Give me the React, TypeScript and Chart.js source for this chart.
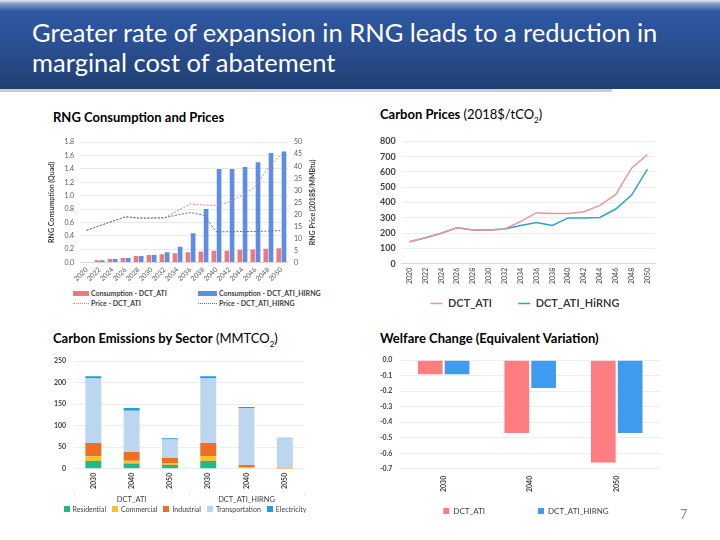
import React, { useEffect, useRef } from "react";
import { Chart, registerables } from "chart.js";
Chart.register(...registerables);

const FONT = "Lato, 'Open Sans', sans-serif";
Chart.defaults.font.family = FONT;
Chart.defaults.color = "#404040";

// ---- Chart 1: RNG consumption and prices ----
const rngYears = ["2020", "2022", "2024", "2026", "2028", "2030", "2032", "2034", "2036", "2038", "2040", "2042", "2044", "2046", "2048", "2050"];
const consumptionATI = [0.01, 0.035, 0.055, 0.07, 0.1, 0.115, 0.125, 0.14, 0.155, 0.165, 0.175, 0.175, 0.19, 0.195, 0.205, 0.215];
const consumptionHiRNG = [0.01, 0.035, 0.055, 0.07, 0.1, 0.115, 0.155, 0.235, 0.44, 0.8, 1.4, 1.4, 1.43, 1.5, 1.64, 1.66];
const priceATI = [13.4, 15.3, 17.2, 19, 18.5, 18.5, 18.6, 21.5, 24.4, 23.9, 23.8, 25.2, 28, 31.5, 39.5, 45];
const priceHiRNG = [13.4, 15.3, 17.2, 19, 18.5, 18.5, 18.6, 19.8, 20.8, 19.7, 12.8, 12.8, 12.9, 12.9, 13.1, 13.3];

// ---- Chart 2: carbon prices ----
const carbonYears = ["2020", "2022", "2024", "2026", "2028", "2030", "2032", "2034", "2036", "2038", "2040", "2042", "2044", "2046", "2048", "2050"];
const carbonATI = [144, 170, 199, 236, 221, 221, 228, 276, 334, 329, 329, 340, 382, 453, 625, 714];
const carbonHiRNG = [144, 170, 199, 236, 221, 221, 228, 250, 270, 250, 300, 300, 303, 358, 449, 619];

// ---- Chart 3: carbon emissions by sector ----
const emissionYears = ["2030", "2040", "2050", "2030", "2040", "2050"];
const emissionGroups = ["DCT_ATI", "DCT_ATI_HIRNG"];
const sectorNames = ["Residential", "Commercial", "Industrial", "Transportation", "Electricity"];
const sectorColors = ["#1FBA8C", "#F6C22E", "#EE6E24", "#BDD6EF", "#1F9DD8"];
const residential = [18, 12, 8.5, 18, 0, 0];
const commercial = [11, 6.5, 3.5, 11, 4, 0.5];
const industrial = [31, 20.5, 13, 31, 4.5, 1];
const transportation = [150, 96, 43, 150, 132, 70];
const electricity = [5, 6, 3, 5, 3, 0.5];

// ---- Chart 4: welfare change ----
const welfareYears = ["2030", "2040", "2050"];
const welfareATI = [-0.09, -0.47, -0.66];
const welfareHiRNG = [-0.09, -0.18, -0.47];

const rightTitlePlugin = {
  id: "rightTitle",
  afterDraw(chart: any) {
    const s = chart.scales.y1;
    if (!s) return;
    const ctx = chart.ctx;
    ctx.save();
    ctx.translate(s.right + 5, (chart.chartArea.top + chart.chartArea.bottom) / 2);
    ctx.rotate(-Math.PI / 2);
    ctx.font = `bold 7px ${FONT}`;
    ctx.fillStyle = "#404040";
    ctx.textAlign = "center";
    ctx.textBaseline = "middle";
    ctx.fillText("RNG Price (2018$/MMBtu)", 0, 0);
    ctx.restore();
  },
};

const shiftLegend = (dx: number) => ({
  id: "shiftLegend",
  afterLayout(chart: any) {
    if (chart.legend) {
      chart.legend.left += dx;
      chart.legend.right += dx;
    }
  },
});

const padLabels = (spaces: string) => (chart: any) => {
  const items = Chart.defaults.plugins.legend.labels.generateLabels(chart);
  return items.map((it: any, i: number) => (i < items.length - 1 ? { ...it, text: it.text + spaces } : it));
};

function rngConfig(): any {
  return {
    type: "bar",
    data: {
      labels: rngYears,
      datasets: [
        { type: "line", label: "Price - DCT_ATI_HIRNG", data: priceHiRNG, yAxisID: "y1", borderColor: "#4E7399", borderWidth: 1, borderDash: [2, 1.5], pointRadius: 0, order: 0 },
        { type: "line", label: "Price - DCT_ATI", data: priceATI, yAxisID: "y1", borderColor: "#D9858B", borderWidth: 1, borderDash: [2, 1.5], pointRadius: 0, order: 0 },
        { label: "Consumption - DCT_ATI", data: consumptionATI, yAxisID: "y", backgroundColor: "#E97A80", order: 1 },
        { label: "Consumption - DCT_ATI_HIRNG", data: consumptionHiRNG, yAxisID: "y", backgroundColor: "#5E8EE4", order: 1 },
      ],
    },
    options: {
      animation: false,
      responsive: true,
      maintainAspectRatio: false,
      layout: { padding: { top: 3, right: 12, left: 0, bottom: 0 } },
      datasets: { bar: { categoryPercentage: 0.8, barPercentage: 0.9 } },
      plugins: { legend: { display: false }, tooltip: { enabled: false } },
      scales: {
        x: {
          grid: { display: false, drawTicks: false },
          border: { color: "#D9D9D9" },
          ticks: { autoSkip: false, minRotation: 45, maxRotation: 45, font: { size: 7 }, color: "#595959", padding: 3 },
        },
        y: {
          min: 0,
          max: 1.8,
          ticks: { stepSize: 0.2, callback: (v: any) => Number(v).toFixed(1), font: { size: 7 }, color: "#595959", padding: 6 },
          grid: { color: "#E8E8E8", drawTicks: false },
          border: { display: false },
          title: { display: true, text: "RNG Consumption (Quad)", font: { size: 7, weight: "bold" }, color: "#404040", padding: 2 },
        },
        y1: {
          position: "right",
          min: 0,
          max: 50,
          ticks: { stepSize: 5, font: { size: 7 }, color: "#595959", padding: 6 },
          grid: { display: false, drawOnChartArea: false, drawTicks: false },
          border: { display: false },
        },
      },
    },
    plugins: [rightTitlePlugin],
  };
}

function carbonConfig(): any {
  return {
    type: "line",
    data: {
      labels: carbonYears,
      datasets: [
        { label: "DCT_ATI", data: carbonATI, borderColor: "#E8979D", backgroundColor: "#E8979D", borderWidth: 1.5, pointRadius: 0, pointStyle: "line" },
        { label: "DCT_ATI_HiRNG", data: carbonHiRNG, borderColor: "#2AA6C8", backgroundColor: "#2AA6C8", borderWidth: 1.5, pointRadius: 0, pointStyle: "line" },
      ],
    },
    options: {
      animation: false,
      responsive: true,
      maintainAspectRatio: false,
      layout: { padding: { top: 3, right: 4 } },
      plugins: {
        tooltip: { enabled: false },
        legend: {
          position: "bottom",
          labels: {
            usePointStyle: true,
            pointStyleWidth: 12,
            boxHeight: 8,
            padding: 10,
            font: { size: 11, weight: "bold" },
            color: "#404040",
            generateLabels: padLabels("      "),
          },
        },
      },
      scales: {
        x: {
          offset: true,
          grid: { display: false, drawTicks: false },
          border: { color: "#D9D9D9" },
          ticks: { autoSkip: false, minRotation: 90, maxRotation: 90, font: { size: 7 }, color: "#404040", padding: 4 },
        },
        y: {
          min: 0,
          max: 800,
          ticks: { stepSize: 100, font: { size: 9, weight: "bold" }, color: "#404040", padding: 6 },
          grid: { color: "#EDEDED", drawTicks: false },
          border: { display: false },
        },
      },
    },
    plugins: [shiftLegend(10)],
  };
}

function emissionsConfig(): any {
  const series = [residential, commercial, industrial, transportation, electricity];
  return {
    type: "bar",
    data: {
      labels: emissionYears,
      datasets: series.map((d, i) => ({ label: sectorNames[i], data: d, backgroundColor: sectorColors[i] })),
    },
    options: {
      animation: false,
      responsive: true,
      maintainAspectRatio: false,
      layout: { padding: { top: 3, right: 4 } },
      datasets: { bar: { categoryPercentage: 0.8, barPercentage: 0.52 } },
      plugins: { tooltip: { enabled: false }, legend: { display: false } },
      scales: {
        x: {
          stacked: true,
          grid: { display: false, drawTicks: false },
          border: { display: false },
          ticks: { autoSkip: false, minRotation: 90, maxRotation: 90, font: { size: 7, weight: "bold" }, color: "#404040", padding: 4 },
        },
        x2: {
          type: "category",
          labels: emissionGroups,
          position: "bottom",
          offset: true,
          grid: { offset: true, drawOnChartArea: false, color: "#E0E0E0", tickLength: 2 },
          border: { display: false },
          ticks: { font: { size: 7.5 }, color: "#404040", padding: 0 },
        },
        y: {
          stacked: true,
          min: 0,
          max: 250,
          ticks: { stepSize: 50, font: { size: 7, weight: "bold" }, color: "#404040", padding: 8 },
          grid: { color: "#EDEDED", drawTicks: false },
          border: { display: false },
        },
      },
    },
  };
}

function welfareConfig(): any {
  return {
    type: "bar",
    data: {
      labels: welfareYears,
      datasets: [
        { label: "DCT_ATI", data: welfareATI, backgroundColor: "#FF7C81" },
        { label: "DCT_ATI_HIRNG", data: welfareHiRNG, backgroundColor: "#3D9BF0" },
      ],
    },
    options: {
      animation: false,
      responsive: true,
      maintainAspectRatio: false,
      layout: { padding: { top: 3, right: 4 } },
      datasets: { bar: { categoryPercentage: 0.62, barPercentage: 0.92 } },
      plugins: {
        tooltip: { enabled: false },
        legend: {
          position: "bottom",
          labels: { boxWidth: 6, boxHeight: 6, padding: 8, font: { size: 8 }, color: "#404040", generateLabels: padLabels("                      ") },
        },
      },
      scales: {
        x: {
          grid: { display: false, drawTicks: false },
          border: { display: false },
          ticks: { minRotation: 90, maxRotation: 90, font: { size: 7, weight: "bold" }, color: "#404040", padding: 7 },
        },
        y: {
          min: -0.7,
          max: 0,
          ticks: { stepSize: 0.1, callback: (v: any) => Number(v).toFixed(1), font: { size: 7, weight: "bold" }, color: "#404040", padding: 8 },
          grid: { color: "#EDEDED", drawTicks: false },
          border: { display: false },
        },
      },
    },
    plugins: [shiftLegend(10)],
  };
}

function ChartBox(props: { left: number; top: number; width: number; height: number; make: () => any }) {
  const ref = useRef<HTMLCanvasElement>(null);
  useEffect(() => {
    const chart = new Chart(ref.current as HTMLCanvasElement, props.make());
    return () => chart.destroy();
  }, []);
  return (
    <div style={{ position: "absolute", left: props.left, top: props.top, width: props.width, height: props.height }}>
      <canvas ref={ref} />
    </div>
  );
}

const subTitle: React.CSSProperties = {
  position: "absolute",
  fontFamily: FONT,
  fontSize: 13,
  color: "#000",
  whiteSpace: "nowrap",
  lineHeight: "16px",
};

const legendText: React.CSSProperties = {
  position: "absolute",
  fontFamily: FONT,
  fontSize: 7,
  fontWeight: "bold",
  color: "#404040",
  whiteSpace: "nowrap",
  lineHeight: "9px",
};

export default function App() {
  return (
    <div style={{ position: "absolute", left: 0, top: 0, width: 720, height: 540, background: "#fff", overflow: "hidden" }}>
      {/* Title banner */}
      <div
        style={{
          position: "absolute",
          left: 0,
          top: 0,
          width: 720,
          height: 89,
          background: "linear-gradient(to bottom, #e4e8ef 0px, #7f98c6 4px, #2f58a2 11px, #2a4f92 45px, #203f73 89px)",
        }}
      />
      <div style={{ position: "absolute", left: 0, top: 89, width: 612, height: 3, background: "#c9ced6" }} />
      <div
        style={{
          position: "absolute",
          left: 32,
          top: 17,
          fontFamily: FONT,
          fontSize: 25.5,
          lineHeight: "30px",
          color: "#fff",
          whiteSpace: "nowrap",
        }}
      >
        Greater rate of expansion in RNG leads to a reduction in
        <br />
        marginal cost of abatement
      </div>

      {/* Sub-titles */}
      <div style={{ ...subTitle, left: 53, top: 109, fontWeight: "bold" }}>RNG Consumption and Prices</div>
      <div style={{ ...subTitle, left: 380, top: 106 }}>
        <b>Carbon Prices</b> (2018$/tCO<sub style={{ fontSize: 8 }}>2</sub>)
      </div>
      <div style={{ ...subTitle, left: 53, top: 330 }}>
        <b>Carbon Emissions by Sector</b> (MMTCO<sub style={{ fontSize: 8 }}>2</sub>)
      </div>
      <div style={{ ...subTitle, left: 380, top: 330, fontWeight: "bold" }}>Welfare Change (Equivalent Variation)</div>

      {/* Charts */}
      <ChartBox left={46} top={132} width={274} height={154} make={rngConfig} />
      <ChartBox left={374} top={130} width={286} height={189} make={carbonConfig} />
      <ChartBox left={46} top={349} width={262} height={155} make={emissionsConfig} />
      <ChartBox left={372} top={348} width={292} height={177} make={welfareConfig} />

      {/* Legend for chart 1 (two aligned columns) */}
      <div style={{ position: "absolute", left: 73, top: 291, width: 16, height: 5, background: "#E97A80" }} />
      <div style={{ ...legendText, left: 91, top: 289 }}>Consumption - DCT_ATI</div>
      <div style={{ position: "absolute", left: 198, top: 291, width: 19, height: 5, background: "#5E8EE4" }} />
      <div style={{ ...legendText, left: 219, top: 289 }}>Consumption - DCT_ATI_HIRNG</div>
      <div style={{ position: "absolute", left: 73, top: 303, width: 16, height: 0, borderTop: "1px dotted #D9858B" }} />
      <div style={{ ...legendText, left: 91, top: 299 }}>Price - DCT_ATI</div>
      <div style={{ position: "absolute", left: 198, top: 303, width: 19, height: 0, borderTop: "1px dotted #4E7399" }} />
      <div style={{ ...legendText, left: 219, top: 299 }}>Price - DCT_ATI_HIRNG</div>

      {/* Legend for chart 3 */}
      <div
        style={{
          position: "absolute",
          left: 54,
          top: 503,
          width: 262,
          display: "flex",
          justifyContent: "center",
          gap: 6,
          fontFamily: FONT,
          fontSize: 7,
          color: "#404040",
          lineHeight: "12px",
          whiteSpace: "nowrap",
        }}
      >
        {sectorNames.map((n, i) => (
          <div key={n} style={{ display: "flex", alignItems: "center", gap: 3 }}>
            <div style={{ width: 6, height: 6, background: sectorColors[i] }} />
            <span>{n}</span>
          </div>
        ))}
      </div>

      {/* Page number */}
      <div style={{ position: "absolute", left: 680, top: 506, fontFamily: FONT, fontSize: 13, color: "#8c8c8c" }}>7</div>
    </div>
  );
}
